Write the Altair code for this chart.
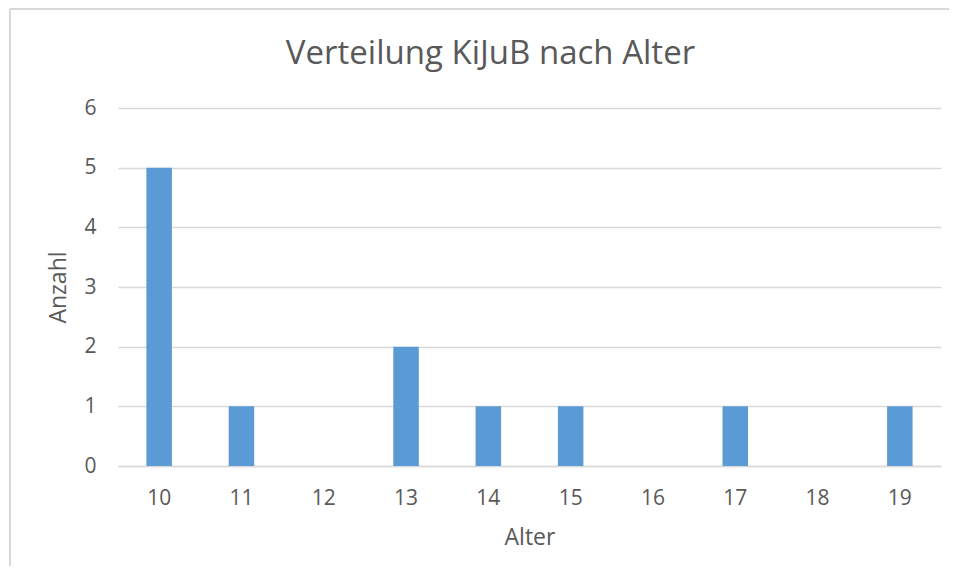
import altair as alt
import pandas as pd

ages = ["10", "11", "12", "13", "14", "15", "16", "17", "18", "19"]
counts = [5, 1, 0, 2, 1, 1, 0, 1, 0, 1]
y_ticks = [0, 1, 2, 3, 4, 5, 6]

df = pd.DataFrame({"Alter": ages, "Anzahl": counts})

FONT = "Open Sans"
TXT = "#595959"
GRID = "#D9D9D9"

bars = (
    alt.Chart(df)
    .mark_bar(color="#5B9BD5")
    .encode(
        x=alt.X(
            "Alter:N",
            sort=ages,
            scale=alt.Scale(paddingInner=0.69, paddingOuter=0.345),
            axis=alt.Axis(
                title="Alter",
                labelAngle=0,
                ticks=False,
                domainColor=GRID,
                domainWidth=1.3,
                labelPadding=21,
                titlePadding=18,
                labelFontSize=21,
                titleFontSize=23,
            ),
        ),
        y=alt.Y(
            "Anzahl:Q",
            scale=alt.Scale(domain=[0, 6], nice=False),
            axis=alt.Axis(
                title="Anzahl",
                values=y_ticks,
                ticks=False,
                domain=False,
                grid=True,
                gridColor=GRID,
                gridWidth=1.3,
                labelPadding=22,
                titlePadding=13,
                labelFontSize=21,
                titleFontSize=23,
            ),
        ),
    )
)

# light frame of the chart area (decoration)
frame_top = alt.Chart(df).mark_rule(color=GRID, strokeWidth=1.5).encode(
    x=alt.value(-108), x2=alt.value(840), y=alt.value(-99)
)
frame_left = alt.Chart(df).mark_rule(color=GRID, strokeWidth=1.5).encode(
    x=alt.value(-108), y=alt.value(-99), y2=alt.value(470)
)

chart = (
    alt.layer(frame_top, frame_left, bars)
    .properties(
        width=823,
        height=358,
        title=alt.TitleParams(
            "Verteilung KiJuB nach Alter",
            anchor="middle",
            dx=-39,
            offset=-63,
            fontSize=33,
            font=FONT,
            fontWeight="normal",
            color=TXT,
        ),
        autosize=alt.AutoSizeParams(type="none"),
        padding={"left": 110, "top": 100, "right": 8, "bottom": 100},
    )
    .configure_axis(
        labelFont=FONT,
        titleFont=FONT,
        labelColor=TXT,
        titleColor=TXT,
        titleFontWeight="normal",
    )
    .configure_view(stroke=None)
)

chart.save("out.html", embed_options={"renderer": "svg", "actions": False})
